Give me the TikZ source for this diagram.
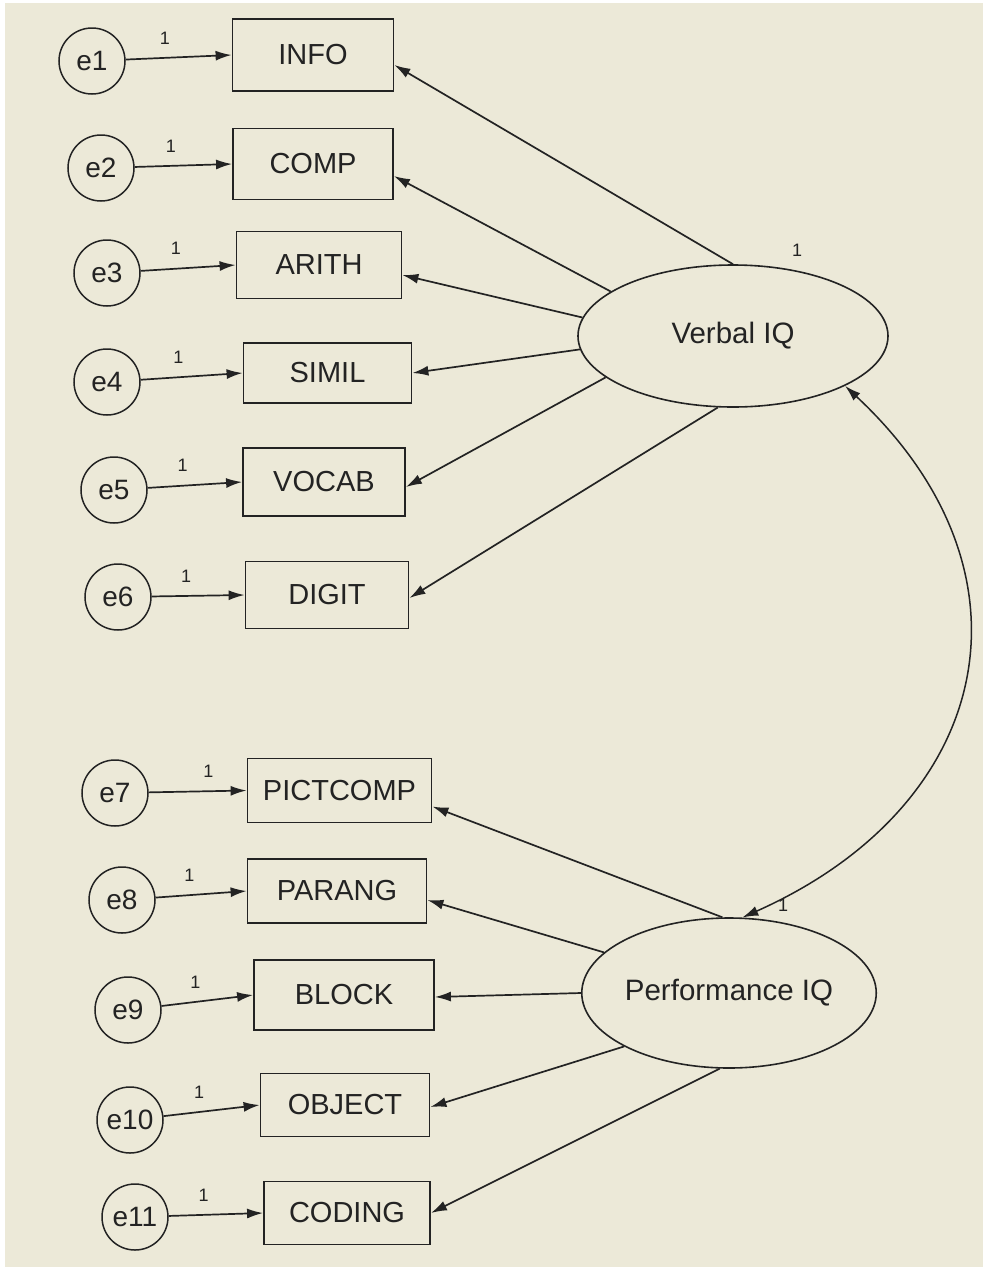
\documentclass[tikz,border=0pt]{standalone}
\usepackage{fontspec}
\setmainfont{Liberation Sans}
\usepackage{xcolor}
\usepackage{tikz}
\usetikzlibrary{shapes,arrows.meta,positioning,calc}
\definecolor{amosbeige}{RGB}{236, 233, 216}
\definecolor{inkgray}{RGB}{35, 35, 35}

\tikzset{
    >={Latex[length=16pt,width=10pt]},
    obsbox/.style={draw=inkgray,line width=1.8pt,fill=amosbeige,text=inkgray,minimum height=66pt,inner sep=0pt,font=\fontsize{29}{34}\selectfont},
    errnode/.style={circle,draw=inkgray,line width=1.5pt,fill=amosbeige,text=inkgray,minimum size=66pt,inner sep=0pt,font=\fontsize{28}{33}\selectfont},
    latent/.style={ellipse,draw=inkgray,line width=1.6pt,fill=amosbeige,text=inkgray,inner sep=0pt,font=\fontsize{29.5}{34}\selectfont},
    loading/.style={->,draw=inkgray,line width=1.7pt},
    wlabel/.style={text=inkgray,inner sep=0pt,font=\fontsize{18}{20}\selectfont}
}

\begin{document}
\begin{tikzpicture}[x=1pt,y=1pt]
    \useasboundingbox (0,0) rectangle (983,-1267);
    \fill[white] (0,0) rectangle (983,-1267);
    \fill[amosbeige] (5,-3) rectangle (984,-1268);

    % Latent factors
    \node[latent,minimum width=310pt,minimum height=142pt] (verbal) at (733,-336) {Verbal IQ};
    \node[latent,minimum width=242pt,minimum height=150pt] (perf) at (729,-993) {Performance IQ};
    \node[wlabel] at (797,-250) {1};

    % Verbal subtests
    \node[obsbox,minimum width=161pt,minimum height=72pt] (info) at (313,-55) {INFO};
    \node[obsbox,minimum width=160pt,minimum height=71pt] (comp) at (313,-164) {COMP};
    \node[obsbox,minimum width=165pt,minimum height=67pt] (arith) at (319,-265) {ARITH};
    \node[obsbox,minimum width=168pt,minimum height=60pt] (simil) at (327.5,-373) {SIMIL};
    \node[obsbox,minimum width=162pt,minimum height=68pt] (vocab) at (324,-482) {VOCAB};
    \node[obsbox,minimum width=163pt,minimum height=67pt] (digit) at (327,-595) {DIGIT};

    % Performance subtests
    \node[obsbox,minimum width=184pt,minimum height=64pt] (pictcomp) at (339.5,-790.5) {PICTCOMP};
    \node[obsbox,minimum width=179pt,minimum height=64pt] (parang) at (337,-891) {PARANG};
    \node[obsbox,minimum width=180pt,minimum height=70pt] (block) at (344,-995) {BLOCK};
    \node[obsbox,minimum width=169pt,minimum height=63pt] (object) at (345,-1105) {OBJECT};
    \node[obsbox,minimum width=166pt,minimum height=63pt] (coding) at (347,-1213) {CODING};

    % Error terms
    \node[errnode] (e1) at (92,-61) {e1};
    \node[errnode] (e2) at (101,-168) {e2};
    \node[errnode] (e3) at (107,-273) {e3};
    \node[errnode] (e4) at (107,-382) {e4};
    \node[errnode] (e5) at (114,-490) {e5};
    \node[errnode] (e6) at (118,-597) {e6};
    \node[errnode] (e7) at (115,-793) {e7};
    \node[errnode] (e8) at (122,-900) {e8};
    \node[errnode] (e9) at (128,-1010) {e9};
    \node[errnode] (e10) at (130,-1120) {e10};
    \node[errnode] (e11) at (135,-1217) {e11};

    % Error paths, fixed to 1
    \draw[loading] (e1) -- node[wlabel,pos=0.37,above=13pt] {1} (info.west);
    \draw[loading] (e2) -- node[wlabel,pos=0.37,above=13pt] {1} (comp.west);
    \draw[loading] (e3) -- node[wlabel,pos=0.37,above=13pt] {1} (arith.west);
    \draw[loading] (e4) -- node[wlabel,pos=0.37,above=13pt] {1} (simil.west);
    \draw[loading] (e5) -- node[wlabel,pos=0.37,above=13pt] {1} (vocab.west);
    \draw[loading] (e6) -- node[wlabel,pos=0.37,above=13pt] {1} (digit.west);
    \draw[loading] (e7) -- node[wlabel,pos=0.61,above=13pt] {1} (pictcomp.west);
    \draw[loading] (e8) -- node[wlabel,pos=0.37,above=13pt] {1} (parang.west);
    \draw[loading] (e9) -- node[wlabel,pos=0.37,above=13pt] {1} (block.west);
    \draw[loading] (e10) -- node[wlabel,pos=0.37,above=13pt] {1} (object.west);
    \draw[loading] (e11) -- node[wlabel,pos=0.37,above=13pt] {1} (coding.west);

    % Factor loadings
    \draw[loading] (verbal.90) -- ([yshift=-10pt]info.east);
    \draw[loading] (verbal.160) -- ([yshift=-12pt]comp.east);
    \draw[loading] (verbal.173) -- ([yshift=-10pt]arith.east);
    \draw[loading] (verbal.185) -- (simil.east);
    \draw[loading] (verbal.198) -- ([yshift=-5pt]vocab.east);
    \draw[loading] (verbal.258) -- ([yshift=-3pt]digit.east);
    \draw[loading] (perf.95) -- ([yshift=-16pt]pictcomp.east);
    \draw[loading] (perf.162) -- ([yshift=-9pt]parang.east);
    \draw[loading] (perf.180) -- ([yshift=-2pt]block.east);
    \draw[loading] (perf.207) -- ([yshift=-2pt]object.east);
    \draw[loading] (perf.263) -- (coding.east);

    % Factor covariance
    \draw[<->,draw=inkgray,line width=1.5pt] (verbal.336) to[out=-43,in=24,looseness=1.3] (perf.80);
    \node[wlabel] at (783,-905) {1};
\end{tikzpicture}
\end{document}
